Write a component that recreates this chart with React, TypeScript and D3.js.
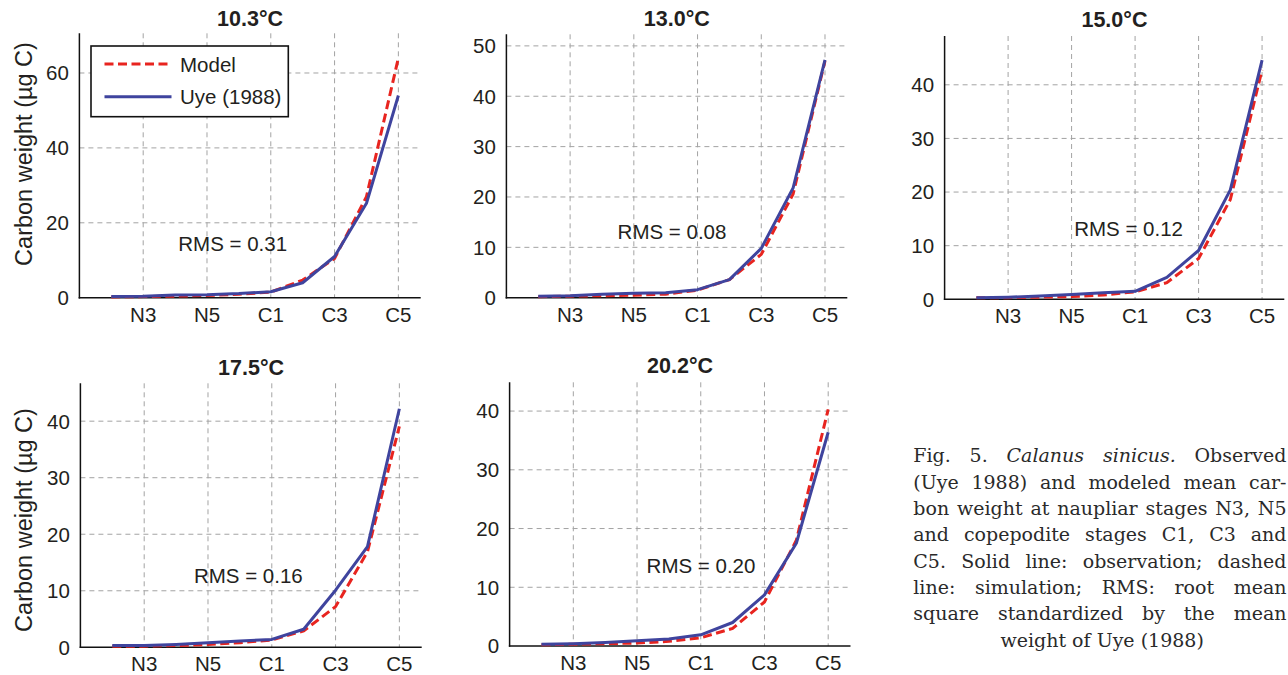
import React, { useEffect, useRef } from 'react';
import * as d3 from 'd3';

// ---------- data ----------
const stages = ['N2', 'N3', 'N4', 'N5', 'N6', 'C1', 'C2', 'C3', 'C4', 'C5'];
const tickStages = ['N3', 'N5', 'C1', 'C3', 'C5'];
const temperatures = ['10.3°C', '13.0°C', '15.0°C', '17.5°C', '20.2°C'];

const uye103 = [0.3, 0.4, 0.7, 0.8, 1.1, 1.6, 4.0, 11.0, 25.2, 54.0];
const model103 = [0.2, 0.3, 0.4, 0.6, 0.9, 1.5, 4.7, 10.5, 27.0, 64.0];
const uye130 = [0.3, 0.4, 0.7, 0.9, 1.0, 1.6, 3.6, 9.8, 21.8, 47.2];
const model130 = [0.2, 0.3, 0.4, 0.5, 0.7, 1.5, 3.6, 8.6, 20.6, 47.0];
const uye150 = [0.3, 0.4, 0.6, 0.9, 1.2, 1.5, 4.1, 9.1, 20.4, 44.6];
const model150 = [0.3, 0.3, 0.4, 0.5, 0.8, 1.4, 3.1, 7.6, 18.6, 42.8];
const uye175 = [0.3, 0.3, 0.5, 0.8, 1.1, 1.4, 3.2, 10.1, 17.8, 42.2];
const model175 = [0.2, 0.2, 0.3, 0.5, 0.8, 1.3, 2.9, 7.2, 16.9, 39.1];
const uye202 = [0.3, 0.4, 0.6, 0.9, 1.2, 1.9, 4.0, 8.7, 17.5, 36.4];
const model202 = [0.2, 0.3, 0.4, 0.5, 0.8, 1.4, 3.0, 7.5, 18.0, 40.3];

const rmsValues = ['0.31', '0.08', '0.12', '0.16', '0.20'];
const yTicks103 = [0, 20, 40, 60];
const yTicks130 = [0, 10, 20, 30, 40, 50];
const yTicks40 = [0, 10, 20, 30, 40];
const yMaxes = [70.6, 52.3, 49.1, 46.7, 44.9];

const legendLabels = ['Model', 'Uye (1988)'];
const yAxisLabel = 'Carbon weight (µg C)';

const captionLines: { t: string; i?: boolean }[][] = [
  [{ t: 'Fig.' }, { t: '5.' }, { t: 'Calanus', i: true }, { t: 'sinicus.', i: true }, { t: 'Observed' }],
  [{ t: '(Uye' }, { t: '1988)' }, { t: 'and' }, { t: 'modeled' }, { t: 'mean' }, { t: 'car-' }],
  [{ t: 'bon' }, { t: 'weight' }, { t: 'at' }, { t: 'naupliar' }, { t: 'stages' }, { t: 'N3,' }, { t: 'N5' }],
  [{ t: 'and' }, { t: 'copepodite' }, { t: 'stages' }, { t: 'C1,' }, { t: 'C3' }, { t: 'and' }],
  [{ t: 'C5.' }, { t: 'Solid' }, { t: 'line:' }, { t: 'observation;' }, { t: 'dashed' }],
  [{ t: 'line:' }, { t: 'simulation;' }, { t: 'RMS:' }, { t: 'root' }, { t: 'mean' }],
  [{ t: 'square' }, { t: 'standardized' }, { t: 'by' }, { t: 'the' }, { t: 'mean' }],
  [{ t: 'weight' }, { t: 'of' }, { t: 'Uye' }, { t: '(1988)' }],
];

const series = [
  { uye: uye103, model: model103, yTicks: yTicks103 },
  { uye: uye130, model: model130, yTicks: yTicks130 },
  { uye: uye150, model: model150, yTicks: yTicks40 },
  { uye: uye175, model: model175, yTicks: yTicks40 },
  { uye: uye202, model: model202, yTicks: yTicks40 },
];

// ---------- layout ----------
const layout = [
  { left: 79.4, right: 420.7, top: 33.3, bottom: 297.7, titleY: 25.7, rmsX: 3.1, rmsY: 12.5, yLabelY: 154, legend: true },
  { left: 506.4, right: 847.3, top: 34.3, bottom: 297.7, titleY: 26.0, rmsX: 3.49, rmsY: 11.6 },
  { left: 944.6, right: 1284.3, top: 36.0, bottom: 299.3, titleY: 26.7, rmsX: 4.08, rmsY: 11.8 },
  { left: 80.4, right: 421.7, top: 383.3, bottom: 647.3, titleY: 375.0, rmsX: 3.56, rmsY: 11.4, yLabelY: 520 },
  { left: 509.6, right: 850.5, top: 382.3, bottom: 646.0, titleY: 373.3, rmsX: 4.3, rmsY: 12.4 },
] as any[];

const X_MAX = 10.7;
const SANS = '"Liberation Sans", Arial, Helvetica, sans-serif';
const SERIF = '"DejaVu Serif", serif';
const RED = '#e8241f';
const BLUE = '#3f449e';
const TXT = '#231f20';

export default function App() {
  const ref = useRef<SVGSVGElement>(null);

  useEffect(() => {
    const svg = d3.select(ref.current);
    svg.selectAll('*').remove();

    series.forEach((s, pi) => {
      const L = layout[pi];
      const g = svg.append('g');
      const x = d3.scaleLinear().domain([0, X_MAX]).range([L.left, L.right]);
      const y = d3.scaleLinear().domain([0, yMaxes[pi]]).range([L.bottom, L.top]);

      // grid
      tickStages.forEach((st) => {
        const xi = stages.indexOf(st) + 1;
        g.append('line')
          .attr('x1', x(xi)).attr('x2', x(xi))
          .attr('y1', y(yMaxes[pi])).attr('y2', y(0))
          .attr('stroke', '#a3a3a3').attr('stroke-width', 1)
          .attr('stroke-dasharray', '5,4');
      });
      s.yTicks.filter((v) => v > 0).forEach((v) => {
        g.append('line')
          .attr('x1', x(0)).attr('x2', x(X_MAX))
          .attr('y1', y(v)).attr('y2', y(v))
          .attr('stroke', '#a3a3a3').attr('stroke-width', 1)
          .attr('stroke-dasharray', '5,4');
      });

      // axes
      g.append('line')
        .attr('x1', x(0)).attr('x2', x(0))
        .attr('y1', y(yMaxes[pi])).attr('y2', y(0) + 0.75)
        .attr('stroke', '#111').attr('stroke-width', 1.5);
      g.append('line')
        .attr('x1', x(0) - 0.75).attr('x2', x(X_MAX))
        .attr('y1', y(0)).attr('y2', y(0))
        .attr('stroke', '#111').attr('stroke-width', 1.5);

      // tick labels
      s.yTicks.forEach((v) => {
        g.append('text')
          .attr('x', x(0) - 10.5).attr('y', y(v)).attr('dy', '0.36em')
          .attr('text-anchor', 'end')
          .attr('font-family', SANS).attr('font-size', 20.5).attr('fill', TXT)
          .text(String(v));
      });
      tickStages.forEach((st) => {
        const xi = stages.indexOf(st) + 1;
        g.append('text')
          .attr('x', x(xi)).attr('y', L.bottom + 24)
          .attr('text-anchor', 'middle')
          .attr('font-family', SANS).attr('font-size', 20.5).attr('fill', TXT)
          .text(st);
      });

      // lines
      const line = d3.line<number>()
        .x((_, i) => x(i + 1))
        .y((d) => y(d));
      g.append('path').attr('d', line(s.model) as string)
        .attr('fill', 'none').attr('stroke', RED).attr('stroke-width', 3)
        .attr('stroke-dasharray', '9,4.5');
      g.append('path').attr('d', line(s.uye) as string)
        .attr('fill', 'none').attr('stroke', BLUE).attr('stroke-width', 3)
        .attr('stroke-linejoin', 'round');

      // RMS
      g.append('text')
        .attr('x', x(L.rmsX)).attr('y', y(L.rmsY))
        .attr('font-family', SANS).attr('font-size', 20.5).attr('fill', TXT)
        .text(`RMS = ${rmsValues[pi]}`);

      // title
      g.append('text')
        .attr('x', (L.left + L.right) / 2).attr('y', L.titleY)
        .attr('text-anchor', 'middle')
        .attr('font-family', SANS).attr('font-size', 21.5).attr('font-weight', 'bold')
        .attr('fill', TXT)
        .text(temperatures[pi]);

      // y label
      if (L.yLabelY) {
        g.append('text')
          .attr('transform', `translate(31.5,${L.yLabelY}) rotate(-90)`)
          .attr('text-anchor', 'middle')
          .attr('font-family', SANS).attr('font-size', 23.5).attr('fill', TXT)
          .text(yAxisLabel);
      }

      // legend
      if (L.legend) {
        const lg = g.append('g');
        lg.append('rect')
          .attr('x', 91).attr('y', 46).attr('width', 197.3).attr('height', 70.7)
          .attr('fill', '#fff').attr('stroke', '#111').attr('stroke-width', 1.6);
        lg.append('line')
          .attr('x1', 104.5).attr('x2', 170).attr('y1', 64).attr('y2', 64)
          .attr('stroke', RED).attr('stroke-width', 3).attr('stroke-dasharray', '9,4.5');
        lg.append('line')
          .attr('x1', 104.5).attr('x2', 171.5).attr('y1', 96.7).attr('y2', 96.7)
          .attr('stroke', BLUE).attr('stroke-width', 3);
        lg.append('text').attr('x', 180).attr('y', 71.7)
          .attr('font-family', SANS).attr('font-size', 20.5).attr('fill', TXT)
          .text(legendLabels[0]);
        lg.append('text').attr('x', 180).attr('y', 103.5)
          .attr('font-family', SANS).attr('font-size', 20.5).attr('fill', TXT)
          .text(legendLabels[1]);
      }
    });

    // caption (justified)
    const capLeft = 913.3;
    const capRight = 1286.5;
    const capTop = 462.4;
    const lineGap = 26.3;
    const fs = 19;
    const cap = svg.append('g');
    captionLines.forEach((words, li) => {
      const yb = capTop + li * lineGap;
      const nodes = words.map((w) =>
        cap.append('text')
          .attr('y', yb)
          .attr('font-family', SERIF).attr('font-size', fs)
          .attr('font-style', w.i ? 'italic' : 'normal')
          .attr('fill', '#2a2a2a')
          .text(w.t)
      );
      const widths = nodes.map((n) => (n.node() as SVGTextElement).getComputedTextLength());
      const total = d3.sum(widths);
      const last = li === captionLines.length - 1;
      if (last) {
        const sp = fs * 0.318;
        const full = total + sp * (words.length - 1);
        let cx = (capLeft + 1291) / 2 - full / 2;
        nodes.forEach((n, i) => {
          n.attr('x', cx);
          cx += widths[i] + sp;
        });
      } else {
        const gap = (capRight - capLeft - total) / (words.length - 1);
        let cx = capLeft;
        nodes.forEach((n, i) => {
          n.attr('x', cx);
          cx += widths[i] + gap;
        });
      }
    });
  }, []);

  return (
    <svg
      ref={ref}
      width={1288}
      height={675}
      style={{ position: 'absolute', left: 0, top: 0, background: '#fff' }}
    />
  );
}
